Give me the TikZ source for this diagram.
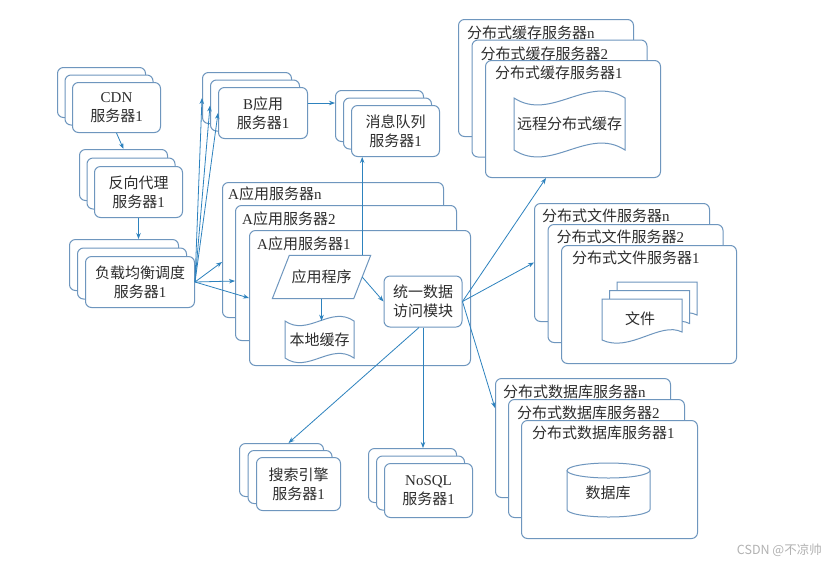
\documentclass[tikz,border=0pt]{standalone}
\usepackage{fontspec}
\setmainfont{Noto Sans CJK SC}
\newfontfamily\latfont{Liberation Serif}
\newcommand\LT[1]{{\latfont #1}}
\usetikzlibrary{arrows.meta,calc}
\definecolor{boxc}{RGB}{110,150,190}
\definecolor{arrc}{RGB}{45,130,190}
\definecolor{txtc}{RGB}{45,45,45}
\begin{document}
\begin{tikzpicture}[x=1pt,y=-1pt,
  font=\fontsize{15}{19}\selectfont, text=txtc,
  srv/.style={draw=boxc, fill=white, rounded corners=6pt, line width=1pt, anchor=north west, inner sep=0pt, align=center},
  srvsmall/.style={srv, minimum width=88, minimum height=51},
  srvbig/.style={srv, minimum width=176, minimum height=118},
  srva/.style={srv, minimum width=221, minimum height=135},
  lbl/.style={anchor=west, inner sep=0pt},
  shp/.style={draw=boxc, fill=white, line width=1pt},
  shpline/.style={draw=boxc, line width=1pt},
  arr/.style={draw=arrc, line width=0.8pt, -{Stealth[length=6pt,width=4.5pt]}}
]
\fill[white] (0,0) rectangle (837,566);
\useasboundingbox (0,0) rectangle (837,566);

% CDN
\node[srvsmall, minimum height=50] (cdn3) at (57,67) {};
\node[srvsmall, minimum height=50] (cdn2) at (64.5,74.5) {};
\node[srvsmall, minimum height=50] (cdn1) at (72,82) {\LT{CDN}\\服务器\LT{1}};
% reverse proxy
\node[srvsmall] (px3) at (79,149) {};
\node[srvsmall] (px2) at (86.5,157.5) {};
\node[srvsmall] (px1) at (94,166) {反向代理\\服务器\LT{1}};
% load balancer
\node[srvsmall, minimum width=109] (lb3) at (69,239) {};
\node[srvsmall, minimum width=109] (lb2) at (77,247.5) {};
\node[srvsmall, minimum width=109] (lb1) at (85,256) {负载均衡调度\\服务器\LT{1}};
% B app
\node[srvsmall, minimum width=89] (b3) at (202,72) {};
\node[srvsmall, minimum width=89] (b2) at (210,79.5) {};
\node[srvsmall, minimum width=89] (b1) at (218,87) {\LT{B}应用\\服务器\LT{1}};
% message queue
\node[srvsmall] (mq3) at (335,90) {};
\node[srvsmall] (mq2) at (343,97.5) {};
\node[srvsmall] (mq1) at (351,105) {消息队列\\服务器\LT{1}};
% search
\node[srvsmall, minimum width=84, minimum height=53] (se3) at (239,443) {};
\node[srvsmall, minimum width=84, minimum height=53] (se2) at (247.5,450) {};
\node[srvsmall, minimum width=84, minimum height=53] (se1) at (256,457) {搜索引擎\\服务器\LT{1}};
% NoSQL
\node[srvsmall, minimum height=54] (ns3) at (368,448) {};
\node[srvsmall, minimum height=54] (ns2) at (376,455.5) {};
\node[srvsmall, minimum height=54] (ns1) at (384,463) {\LT{NoSQL}\\服务器\LT{1}};

% A app servers
\node[srva] (an) at (222,182) {};
\node[lbl] (anl) at ($(an.north west)+(6,12)$) {\LT{A}应用服务器\LT{n}};
\node[srva] (a2) at (235,205) {};
\node[lbl] (a2l) at ($(a2.north west)+(7,14)$) {\LT{A}应用服务器\LT{2}};
\node[srva] (a1) at (249,230) {};
\node[lbl] (a1l) at ($(a1.north west)+(8,14)$) {\LT{A}应用服务器\LT{1}};
% application program (parallelogram)
\node[minimum width=81, minimum height=43, inner sep=0pt] (app) at (321.5,277) {应用程序};
\draw[shpline] ([xshift=-8.5pt]app.south west) -- ([xshift=-8.5pt]app.south east)
  -- ([xshift=8.5pt]app.north east) -- ([xshift=8.5pt]app.north west) -- cycle;
% local cache (tape)
\node[minimum width=69, minimum height=37, inner sep=0pt] (lc) at (319.5,339.5) {本地缓存};
\draw[shpline] (285,321) .. controls (308,337) and (331,305) .. (354,321) -- (354,358)
  .. controls (331,342) and (308,374) .. (285,358) -- cycle;
% unified data access module
\node[srv, anchor=center, minimum width=78, minimum height=51] (mod) at (423,301.5) {统一数据\\访问模块};

% distributed cache
\node[srvbig, minimum width=175, minimum height=117] (cn) at (458,19) {};
\node[lbl] (cnl) at ($(cn.north west)+(9,14)$) {分布式缓存服务器\LT{n}};
\node[srvbig, minimum width=175, minimum height=117] (c2) at (471.5,39.5) {};
\node[lbl] (c2l) at ($(c2.north west)+(9,14)$) {分布式缓存服务器\LT{2}};
\node[srvbig, minimum width=175, minimum height=117] (c1) at (485,60) {};
\node[lbl] (c1l) at ($(c1.north west)+(10,13)$) {分布式缓存服务器\LT{1}};
\node[inner sep=0pt] (rc) at (569.5,124) {远程分布式缓存};
\draw[shpline] (514,98) .. controls (551,122) and (588,74) .. (625,98) -- (625,150)
  .. controls (588,126) and (551,174) .. (514,150) -- cycle;

% distributed file
\node[srvbig, minimum width=175] (fn) at (534,203) {};
\node[lbl] (fnl) at ($(fn.north west)+(8,13)$) {分布式文件服务器\LT{n}};
\node[srvbig, minimum width=175] (f2) at (547.5,224) {};
\node[lbl] (f2l) at ($(f2.north west)+(9,13)$) {分布式文件服务器\LT{2}};
\node[srvbig, minimum width=175] (f1) at (561,245) {};
\node[lbl] (f1l) at ($(f1.north west)+(11,13)$) {分布式文件服务器\LT{1}};
\foreach \dx/\dy in {15/-17, 7.5/-8.5, 0/0}{
  \draw[shp] (602+\dx,299+\dy) -- (682+\dx,299+\dy) -- (682+\dx,332+\dy)
    .. controls (660+\dx,321+\dy) and (630+\dx,353+\dy) .. (602+\dx,340+\dy) -- cycle;
}
\node[inner sep=0pt] (doc) at (640,319) {文件};

% distributed database
\node[srvbig, minimum width=175, minimum height=119] (dn) at (495,378) {};
\node[lbl] (dnl) at ($(dn.north west)+(8,14)$) {分布式数据库服务器\LT{n}};
\node[srvbig] (d2) at (508,399) {};
\node[lbl] (d2l) at ($(d2.north west)+(9,14)$) {分布式数据库服务器\LT{2}};
\node[srvbig] (d1) at (521,420) {};
\node[lbl] (d1l) at ($(d1.north west)+(11,13)$) {分布式数据库服务器\LT{1}};
\draw[shpline] (567,470.5) -- (567,509.5) arc[start angle=180, end angle=0, x radius=41.5, y radius=7.5] -- (650,470.5);
\draw[shpline] (608.5,470.5) ellipse [x radius=41.5, y radius=7.5];
\node[inner sep=0pt] (dbt) at (608,493) {数据库};

% connectors
\draw[arr] (cdn1.south) -- (px3.north);
\draw[arr] (px1.south) -- (px1.south |- lb3.north);
\draw[arr] (lb1.east) -- (b3.west);
\draw[arr] (lb1.east) -- (b2.west);
\draw[arr] (lb1.east) -- (b1.west);
\draw[arr] (lb1.east) -- ([yshift=-12pt]an.west);
\draw[arr] (lb1.east) -- ([yshift=-8pt]a2.west);
\draw[arr] (lb1.east) -- (a1.west);
\draw[arr] ([yshift=10pt]b1.east) -- ([yshift=10pt]b1.east -| mq3.west);
\draw[arr] (app.north east) -- (app.north east |- mq1.south);
\draw[arr] (app.east) -- (mod.west);
\draw[arr] (app.south) -- (app.south |- lc.north);
\draw[arr] (mod.east) -- ([xshift=61pt]c1.south west);
\draw[arr] (mod.east) -- (fn.west);
\draw[arr] (mod.east) -- ([yshift=-30pt]dn.north west);
\draw[arr] (mod.south) -- (mod.south |- ns3.north);
\draw[arr] ([xshift=-4pt]mod.south) -- ([xshift=7pt]se3.north);

% watermark
\node[text=black!30, font=\fontsize{12.5}{14}\selectfont, anchor=east, inner sep=0pt] (wm) at (822,550) {CSDN @不凉帅};
\end{tikzpicture}
\end{document}
